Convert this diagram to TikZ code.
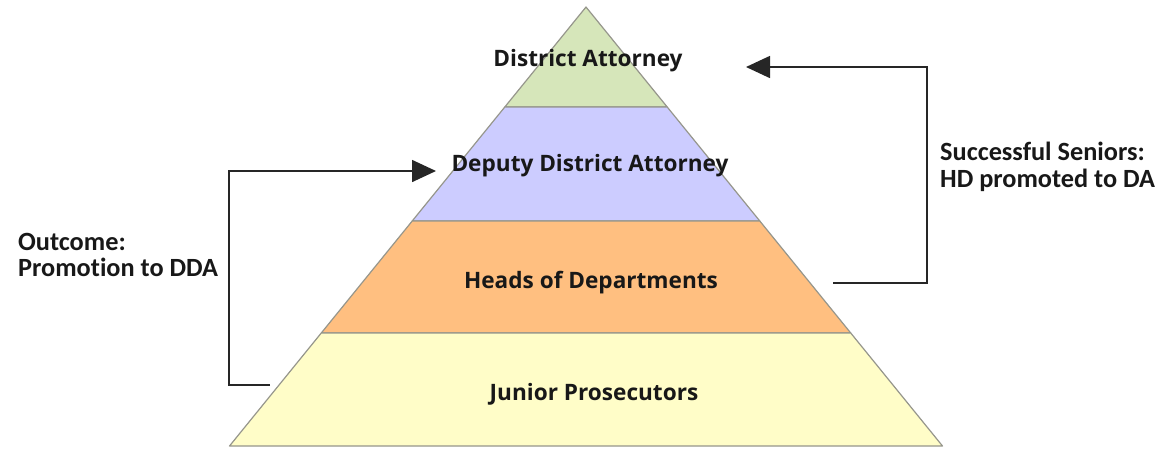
\documentclass[tikz,border=0pt]{standalone}
\usepackage{fontspec}
\setmainfont{Carlito}[Ligatures=NoCommon]
\newfontfamily\tierfont{Open Sans}
\usetikzlibrary{arrows.meta,calc}

\definecolor{tierA}{RGB}{214,230,186}
\definecolor{tierB}{RGB}{204,204,255}
\definecolor{tierC}{RGB}{255,191,128}
\definecolor{tierD}{RGB}{255,253,200}
\definecolor{edgegray}{RGB}{150,150,140}
\definecolor{inktext}{RGB}{24,24,24}

\tikzset{
  tier/.style={draw=edgegray, line width=1.2pt, line join=round},
  tierlabel/.style={font=\tierfont\bfseries\fontsize{22.6}{26}\selectfont, text=inktext, inner sep=0pt},
  sidelabel/.style={font=\bfseries\fontsize{26.3}{26.5}\selectfont, text=inktext, align=left, anchor=north west, inner sep=0pt},
  link/.style={line width=1.6pt, draw=black!85},
  linkhead/.style={link, -{Triangle[length=24pt,width=22pt]}},
}

\begin{document}
\begin{tikzpicture}[x=1pt, y=-1pt]
  \useasboundingbox (0,0) rectangle (1166,448);

  % pyramid outline
  \coordinate (apex) at (586,7);
  \coordinate (bl) at (229.5,446);
  \coordinate (br) at (942.5,446);
  \coordinate (l1) at ($(apex)!0.2278!(bl)$);
  \coordinate (r1) at ($(apex)!0.2278!(br)$);
  \coordinate (l2) at ($(apex)!0.4875!(bl)$);
  \coordinate (r2) at ($(apex)!0.4875!(br)$);
  \coordinate (l3) at ($(apex)!0.7426!(bl)$);
  \coordinate (r3) at ($(apex)!0.7426!(br)$);

  % tiers, top to bottom
  \filldraw[tier, fill=tierA] (apex) -- (r1) -- (l1) -- cycle;
  \filldraw[tier, fill=tierB] (l1) -- (r1) -- (r2) -- (l2) -- cycle;
  \filldraw[tier, fill=tierC] (l2) -- (r2) -- (r3) -- (l3) -- cycle;
  \filldraw[tier, fill=tierD] (l3) -- (r3) -- (br) -- (bl) -- cycle;

  % tier names
  \node[tierlabel] (da)  at (588,61)  {District Attorney};
  \node[tierlabel] (dda) at (590,166) {Deputy District Attorney};
  \node[tierlabel] (hod) at (591,283) {Heads of Departments};
  \node[tierlabel] (jp)  at (594,394) {Junior Prosecutors};

  % side notes
  \node[sidelabel] (outcome) at (18,233) {Outcome:\\Promotion to DDA};
  \node[sidelabel] (seniors) at (940,142) {Successful Seniors:\\HD promoted to DA};

  % promotion paths
  \coordinate (jpfoot)  at (270,385);
  \coordinate (leftbar) at (229,385);
  \coordinate (ddatip)  at (436,171);
  \draw[linkhead] (jpfoot) -- (leftbar) |- (ddatip);

  \coordinate (hodfoot)  at (833,283);
  \coordinate (rightbar) at (927,283);
  \coordinate (datip)    at (746,67);
  \draw[linkhead] (hodfoot) -- (rightbar) |- (datip);
\end{tikzpicture}
\end{document}
